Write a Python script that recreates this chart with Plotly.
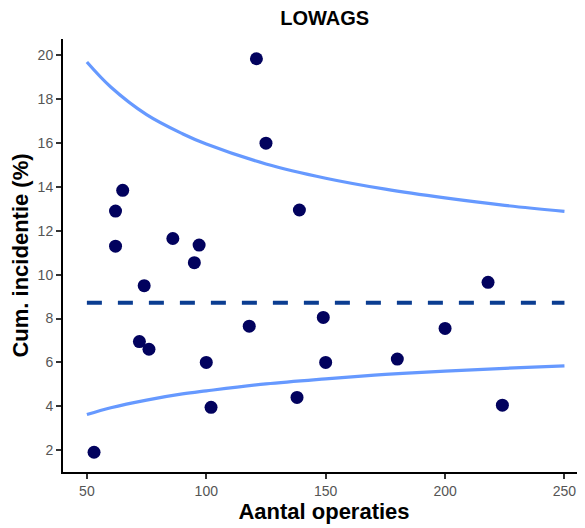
import plotly.graph_objects as go

# Observed hospitals
n_ops = [53, 62, 62, 65, 72, 74, 76, 86, 95, 97, 100, 102, 118, 121, 125,
         138, 139, 149, 150, 180, 200, 218, 224]
incidence = [1.9, 12.9, 11.3, 13.85, 6.95, 9.5, 6.6, 11.65, 10.55, 11.35, 6.0, 3.95, 7.65, 19.85, 16.0,
             4.4, 12.95, 8.05, 6.0, 6.15, 7.55, 9.65, 4.05]

# Funnel limits
limit_n = [50, 60, 75, 90, 100, 125, 150, 175, 200, 225, 250]
upper_limit = [19.7, 18.56, 17.3, 16.43, 15.96, 15.05, 14.4, 13.9, 13.5, 13.16, 12.89]
lower_limit = [3.62, 3.93, 4.28, 4.56, 4.70, 5.02, 5.25, 5.45, 5.60, 5.73, 5.84]

mean_n = [50, 250]
mean_value = [8.72, 8.72]

x_ticks = [50, 100, 150, 200, 250]
y_ticks = [2, 4, 6, 8, 10, 12, 14, 16, 18, 20]

FONT = "Liberation Sans, Arial, sans-serif"
fig = go.Figure()
for lim in (upper_limit, lower_limit):
    fig.add_trace(go.Scatter(x=limit_n, y=lim, mode="lines",
                             line=dict(color="#6699FF", width=3.2, shape="spline", smoothing=1.0),
                             hoverinfo="skip"))
fig.add_trace(go.Scatter(x=mean_n, y=mean_value, mode="lines",
                         line=dict(color="#0B3D91", width=3.8, dash="15px,16px")))
fig.add_trace(go.Scatter(x=n_ops, y=incidence, mode="markers",
                         marker=dict(color="#02025E", size=13, line=dict(width=0))))

# page has an 8px body margin, so the figure is sized to fit the 585x528 window
fig.update_layout(
    width=577, height=520,
    margin=dict(l=55, r=0, t=31, b=56),
    paper_bgcolor="white", plot_bgcolor="white",
    showlegend=False,
    font=dict(family=FONT),
    title=dict(text="<b>LOWAGS</b>", x=0.549, xanchor="center", y=0.981, yanchor="middle",
               font=dict(size=20, color="black", family=FONT)),
)
fig.update_xaxes(range=[40, 258.6], tickvals=x_ticks, showgrid=False, zeroline=False,
                 showline=True, linecolor="black", linewidth=2, automargin=False,
                 ticks="outside", ticklen=5, tickwidth=1.5, tickcolor="#333333",
                 tickfont=dict(size=14, color="#555555", family=FONT),
                 title=dict(text="<b>Aantal operaties</b>", font=dict(size=22, color="black", family=FONT), standoff=1))
fig.update_yaxes(range=[1.0, 20.75], tickvals=y_ticks, showgrid=False, zeroline=False,
                 showline=True, linecolor="black", linewidth=2, automargin=False,
                 ticks="outside", ticklen=5, tickwidth=1.5, tickcolor="#333333",
                 tickfont=dict(size=14, color="#555555", family=FONT),
                 title=dict(text="<b>Cum. incidentie (%)</b>", font=dict(size=22, color="black", family=FONT), standoff=4))

fig.write_html("out.html")
